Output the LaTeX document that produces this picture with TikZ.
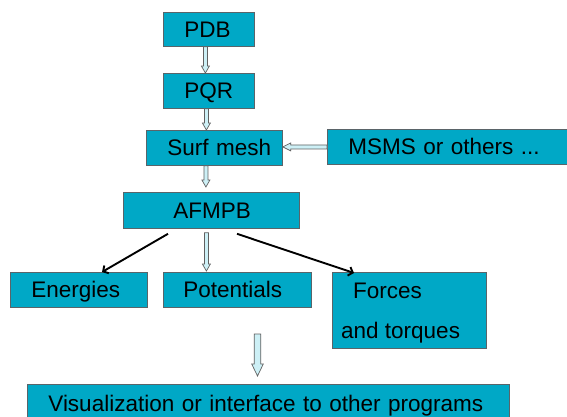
\documentclass[tikz,border=0pt]{standalone}
\usepackage{fontspec}
\setmainfont{Liberation Sans}
\usetikzlibrary{calc,arrows.meta}
\definecolor{boxcyan}{RGB}{0,168,198}
\definecolor{arrowfill}{RGB}{205,240,246}
\definecolor{boxedge}{RGB}{90,100,105}
\newcommand\vhollow[5]{\draw[hollow] let \p1=(#1),\p2=(#2) in
  (\x1-#3,\y1) -- (\x1-#3,\y2+#5) -- (\x1-#4,\y2+#5) -- (\x1,\y2) --
  (\x1+#4,\y2+#5) -- (\x1+#3,\y2+#5) -- (\x1+#3,\y1) -- cycle;}
\newcommand\hhollow[5]{\draw[hollow] let \p1=(#1),\p2=(#2) in
  (\x1,\y1-#3) -- (\x2+#5,\y1-#3) -- (\x2+#5,\y1-#4) -- (\x2,\y1) --
  (\x2+#5,\y1+#4) -- (\x2+#5,\y1+#3) -- (\x1,\y1+#3) -- cycle;}
\begin{document}
\begin{tikzpicture}[x=1pt,y=-1pt,
  box/.style={draw=boxedge,line width=0.8pt,fill=boxcyan,inner sep=0pt,
    anchor=north west,align=left,text height=16pt,text depth=0pt,
    font=\fontsize{22.5}{27}\selectfont},
  txt/.style={inner sep=0pt,anchor=base west,font=\fontsize{22.5}{27}\selectfont},
  hollow/.style={draw=gray!75!black,line width=0.7pt,fill=arrowfill},
  blk/.style={draw=black,line width=1.9pt,-{Straight Barb[length=4pt,width=9pt]}}]
\useasboundingbox (0,0) rectangle (567,416);
\node[box,minimum height=34pt,text width=91pt] (pdb) at (163,12) {\hspace*{21pt}PDB};
\node[box,minimum height=35pt,text width=91pt] (pqr) at (163,73) {\hspace*{21pt}PQR};
\node[box,minimum height=35pt,text width=136pt] (surf) at (146,130) {\hspace*{21pt}Surf mesh};
\node[box,minimum height=35pt,text width=244pt] (msms) at (327,129) {\hspace*{21pt}MSMS or others ...};
\node[box,minimum height=36pt,text width=176pt] (afmpb) at (123,192) {\hspace*{50pt}AFMPB};
\node[box,minimum height=35pt,text width=137pt] (energies) at (10,272) {\hspace*{21pt}Energies};
\node[box,minimum height=35pt,text width=148pt] (potentials) at (163,272) {\hspace*{20pt}Potentials};
\node[box,minimum height=76pt,minimum width=154pt] (forces) at (332,272) {};
\node[txt] (forces1) at ($(forces.north west)+(21,26)$) {Forces};
\node[txt] (forces2) at ($(forces.north west)+(9,66)$) {and torques};
\node[box,minimum height=38pt,text width=482pt] (vis) at (27,384) {\hspace*{21pt}Visualization or interface to other programs};
% hollow arrows
\vhollow{$(pdb.south)+(-3.5,0)$}{$(pqr.north)+(-3.5,0)$}{2pt}{4pt}{7pt}
\vhollow{$(pqr.south)+(-2.5,0)$}{$(surf.north)+(-8.5,0)$}{2pt}{4pt}{7pt}
\vhollow{$(surf.south)+(-8.5,0)$}{$(afmpb.north)+(-5,-5)$}{2pt}{4pt}{7pt}
\vhollow{$(afmpb.south)+(-5,4)$}{$(potentials.north)+(-31,-1)$}{2pt}{4pt}{7pt}
\hhollow{msms.west}{surf.east}{2pt}{4pt}{8pt}
\coordinate (bigstart) at (257.5,334);
\vhollow{bigstart}{$(vis.north)+(-10.5,-8)$}{3.3pt}{5.8pt}{12pt}
% black arrows
\draw[blk] ($(afmpb.south west)+(45,5)$) -- ($(energies.north west)+(92,0)$);
\draw[blk] ($(afmpb.south west)+(114,5)$) -- ($(forces.north west)+(22,1)$);
\end{tikzpicture}
\end{document}
